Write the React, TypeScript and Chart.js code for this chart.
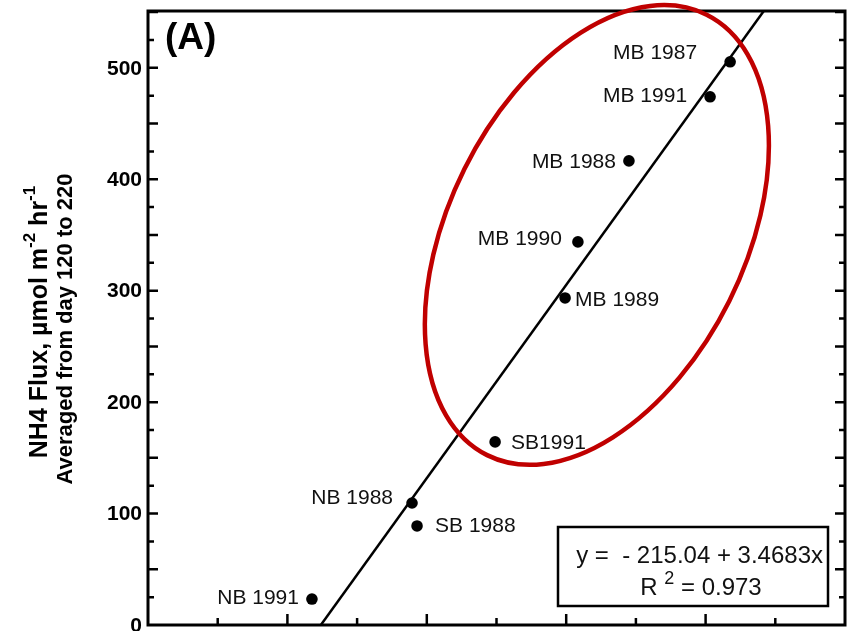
import React, { useEffect, useRef } from "react";
import { Chart, registerables } from "chart.js";
Chart.register(...registerables);

// ---- data ----
const sites = ["MB 1987", "MB 1991", "MB 1988", "MB 1990", "MB 1989", "SB1991", "NB 1988", "SB 1988", "NB 1991"];
const xValues = [208.8, 201.6, 172.5, 154.2, 149.6, 124.5, 94.7, 96.5, 58.8];
const yValues = [505.4, 474.0, 416.5, 343.8, 293.5, 164.3, 109.5, 88.9, 23.3];
const intercept = -215.04;
const slope = 3.4683;
const rSquared = "0.973";
const yTickLabels = [0, 100, 200, 300, 400, 500];
const xMin = 0;
const xMax = 250;
const yMin = 0;
const yMax = 551;
const minorStep = 25;

// ---- label placement (styling only) ----
const labelPlacement = [
  { dx: -33, dy: -9, align: "right" },
  { dx: -23, dy: -1, align: "right" },
  { dx: -13, dy: 1, align: "right" },
  { dx: -16, dy: -3, align: "right" },
  { dx: 10, dy: 2, align: "left" },
  { dx: 16, dy: 1, align: "left" },
  { dx: -19, dy: -5, align: "right" },
  { dx: 18, dy: 0, align: "left" },
  { dx: -13, dy: -1, align: "right" },
];

const FONT = '"Liberation Sans", Arial, Helvetica, sans-serif';

const decorPlugin = {
  id: "decor",
  afterDatasetsDraw(chart: any) {
    const ctx = chart.ctx;
    const { left, right, top, bottom } = chart.chartArea;
    const xs = chart.scales.x;
    const ys = chart.scales.y;
    ctx.save();

    // frame
    ctx.strokeStyle = "#000";
    ctx.lineWidth = 3;
    ctx.strokeRect(left, top, right - left, bottom - top);

    // ticks y (left & right, inward)
    ctx.lineWidth = 2.5;
    for (let v = yMin + minorStep; v < yMax; v += minorStep) {
      const py = ys.getPixelForValue(v);
      const len = v % 50 === 0 ? 10 : 6;
      ctx.beginPath();
      ctx.moveTo(left, py);
      ctx.lineTo(left + len, py);
      ctx.moveTo(right, py);
      ctx.lineTo(right - len, py);
      ctx.stroke();
    }
    // ticks x (bottom, inward)
    for (let v = xMin + minorStep; v < xMax; v += minorStep) {
      const px = xs.getPixelForValue(v);
      const len = v % 50 === 0 ? 11 : 7;
      ctx.beginPath();
      ctx.moveTo(px, bottom);
      ctx.lineTo(px, bottom - len);
      ctx.stroke();
    }

    // y tick labels
    ctx.fillStyle = "#000";
    ctx.font = `bold 21px ${FONT}`;
    ctx.textAlign = "right";
    ctx.textBaseline = "middle";
    yTickLabels.forEach((v) => {
      ctx.fillText(String(v), left - 6, ys.getPixelForValue(v) + 1);
    });

    // point labels
    ctx.fillStyle = "#111";
    ctx.font = `21px ${FONT}`;
    ctx.textBaseline = "middle";
    sites.forEach((s, i) => {
      const px = xs.getPixelForValue(xValues[i]);
      const py = ys.getPixelForValue(yValues[i]);
      const p = labelPlacement[i];
      ctx.textAlign = p.align;
      ctx.fillText(s, px + p.dx, py + p.dy);
    });

    // red ellipse highlighting MB group
    const cx = xs.getPixelForValue(161);
    const cy = ys.getPixelForValue(350);
    ctx.beginPath();
    ctx.ellipse(cx, cy, 246, 148, (-63.5 * Math.PI) / 180, 0, Math.PI * 2);
    ctx.strokeStyle = "#c00000";
    ctx.lineWidth = 4.5;
    ctx.stroke();

    // panel letter
    ctx.fillStyle = "#000";
    ctx.font = `bold 37px ${FONT}`;
    ctx.textAlign = "left";
    ctx.textBaseline = "alphabetic";
    ctx.fillText("(A)", left + 17, top + 38);

    // equation box
    const bw = 270, bh = 79;
    const bx = right - 17 - bw;
    const by = bottom - 19 - bh;
    ctx.fillStyle = "#fff";
    ctx.fillRect(bx, by, bw, bh);
    ctx.strokeStyle = "#000";
    ctx.lineWidth = 2.5;
    ctx.strokeRect(bx, by, bw, bh);
    ctx.fillStyle = "#111";
    ctx.font = `24px ${FONT}`;
    ctx.textAlign = "right";
    ctx.textBaseline = "middle";
    ctx.fillText(`y =  - ${Math.abs(intercept).toFixed(2)} + ${slope}x`, bx + bw - 5, by + 29);
    // R^2 line
    ctx.textAlign = "left";
    const r1 = "R";
    const r2 = "2";
    const r3 = " = " + rSquared;
    ctx.font = `24px ${FONT}`;
    const w1 = ctx.measureText(r1 + " ").width;
    ctx.font = `18px ${FONT}`;
    const w2 = ctx.measureText(r2).width;
    ctx.font = `24px ${FONT}`;
    const w3 = ctx.measureText(r3).width;
    let sx = bx + 143 - (w1 + w2 + w3) / 2;
    const ry = by + 61;
    ctx.fillText(r1, sx, ry);
    sx += w1;
    ctx.font = `18px ${FONT}`;
    ctx.fillText(r2, sx, ry - 9);
    sx += w2;
    ctx.font = `24px ${FONT}`;
    ctx.fillText(r3, sx, ry);

    // y-axis title (two rotated lines)
    const midY = (top + bottom) / 2;
    ctx.fillStyle = "#000";
    const parts = [
      { t: "NH4 Flux, \u00b5mol m", sup: false },
      { t: "-2", sup: true },
      { t: " hr", sup: false },
      { t: "-1", sup: true },
    ];
    const mainFont = `bold 25px ${FONT}`;
    const supFont = `bold 17px ${FONT}`;
    let total = 0;
    const widths = parts.map((p) => {
      ctx.font = p.sup ? supFont : mainFont;
      const w = ctx.measureText(p.t).width;
      total += w;
      return w;
    });
    ctx.save();
    ctx.translate(47, midY + 4);
    ctx.rotate(-Math.PI / 2);
    ctx.textAlign = "left";
    ctx.textBaseline = "alphabetic";
    let tx = -total / 2;
    parts.forEach((p, i) => {
      ctx.font = p.sup ? supFont : mainFont;
      ctx.fillText(p.t, tx, p.sup ? -12 : 0);
      tx += widths[i];
    });
    ctx.restore();
    ctx.save();
    ctx.translate(72, midY + 11);
    ctx.rotate(-Math.PI / 2);
    ctx.font = `bold 22px ${FONT}`;
    ctx.textAlign = "center";
    ctx.textBaseline = "alphabetic";
    ctx.fillText("Averaged from day 120 to 220", 0, 0);
    ctx.restore();

    ctx.restore();
  },
};

export default function App() {
  const ref = useRef<HTMLCanvasElement | null>(null);
  useEffect(() => {
    if (!ref.current) return;
    const points = xValues.map((x, i) => ({ x, y: yValues[i] }));
    const lineStart = { x: (yMin - intercept) / slope, y: yMin };
    const lineEnd = { x: (yMax - intercept) / slope, y: yMax };
    const chart = new Chart(ref.current, {
      type: "scatter",
      data: {
        datasets: [
          {
            label: "fit",
            data: [lineStart, lineEnd],
            showLine: true,
            borderColor: "#000",
            borderWidth: 2.5,
            pointRadius: 0,
            fill: false,
          },
          {
            label: "sites",
            data: points,
            backgroundColor: "#000",
            borderColor: "#000",
            pointRadius: 5.8,
            pointBorderWidth: 0,
          },
        ],
      },
      options: {
        responsive: false,
        animation: false,
        layout: { padding: { top: 11, right: 8, left: 0, bottom: 0 } },
        plugins: { legend: { display: false }, tooltip: { enabled: false } },
        scales: {
          x: {
            type: "linear",
            min: xMin,
            max: xMax,
            grid: { display: false },
            border: { display: false },
            ticks: { display: false },
            afterFit(scale: any) {
              scale.height = 6;
            },
          },
          y: {
            type: "linear",
            min: yMin,
            max: yMax,
            grid: { display: false, drawTicks: false },
            border: { display: false },
            ticks: { display: false, stepSize: 100 },
            afterFit(scale: any) {
              scale.width = 148;
            },
          },
        },
      },
      plugins: [decorPlugin],
    });
    return () => chart.destroy();
  }, []);
  return (
    <div style={{ position: "absolute", left: 0, top: 0, width: 853, height: 631, background: "#fff" }}>
      <canvas ref={ref} width={853} height={631} />
    </div>
  );
}
